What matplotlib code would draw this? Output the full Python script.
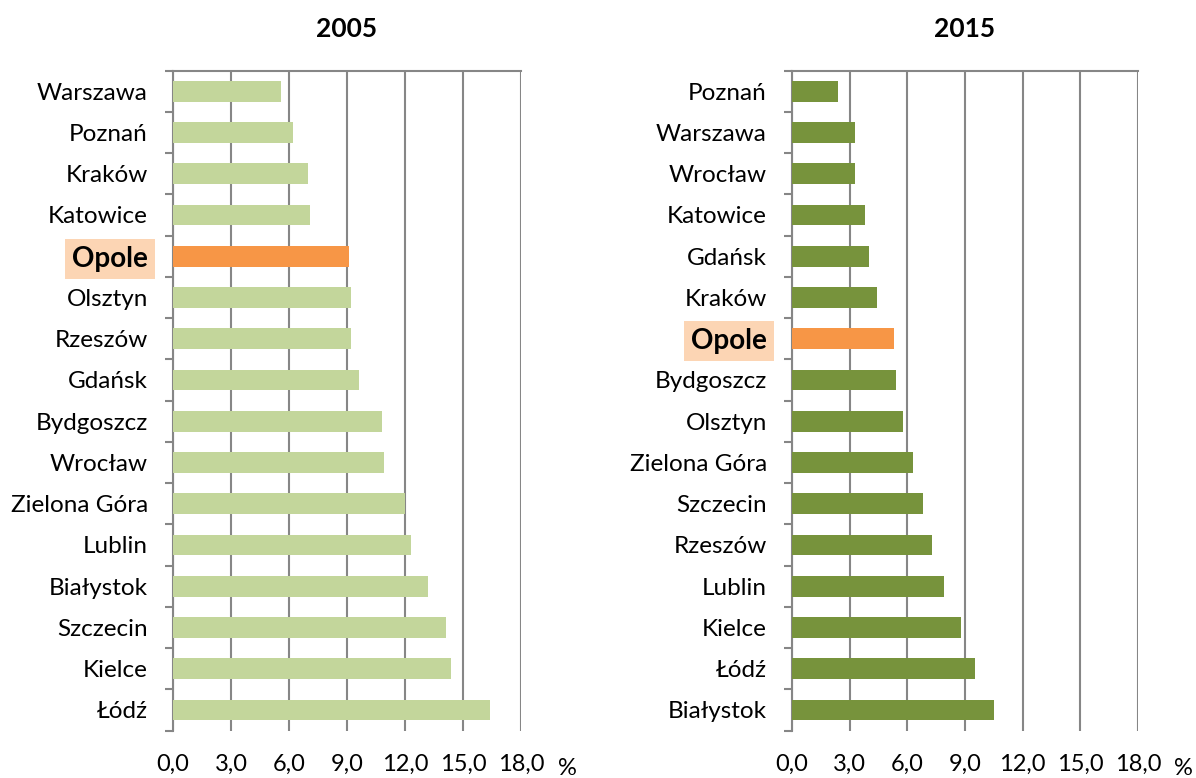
import numpy as np
import matplotlib as mpl
mpl.use('Agg')
import matplotlib.pyplot as plt
import matplotlib.ticker as ticker

plt.rcParams['font.family'] = ['Lato', 'DejaVu Sans']

# data, top row first
cities_2005 = ['Warszawa', 'Poznań', 'Kraków', 'Katowice', 'Opole', 'Olsztyn', 'Rzeszów', 'Gdańsk',
               'Bydgoszcz', 'Wrocław', 'Zielona Góra', 'Lublin', 'Białystok', 'Szczecin', 'Kielce', 'Łódź']
values_2005 = [5.6, 6.2, 7.0, 7.1, 9.1, 9.2, 9.2, 9.6, 10.8, 10.9, 12.0, 12.3, 13.2, 14.1, 14.4, 16.4]

cities_2015 = ['Poznań', 'Warszawa', 'Wrocław', 'Katowice', 'Gdańsk', 'Kraków', 'Opole', 'Bydgoszcz',
               'Olsztyn', 'Zielona Góra', 'Szczecin', 'Rzeszów', 'Lublin', 'Kielce', 'Łódź', 'Białystok']
values_2015 = [2.4, 3.3, 3.3, 3.8, 4.0, 4.4, 5.3, 5.4, 5.8, 6.3, 6.8, 7.3, 7.9, 8.8, 9.5, 10.5]

xticks = [0, 3, 6, 9, 12, 15, 18]
highlight = 'Opole'

W, H = 1196, 778
fig = plt.figure(figsize=(W / 100, H / 100), dpi=100)

grid_col = '#868686'
fs = 17.5


def panel(rect, title, cities, values, col):
    ax = fig.add_axes(rect)
    n = len(cities)
    y = np.arange(n)
    colors = ['#F79646' if c == highlight else col for c in cities]
    ax.barh(y, values, height=0.5, color=colors, zorder=3)
    ax.set_ylim(n - 0.5, -0.5)
    ax.set_xlim(0, 18)

    ax.set_xticks(xticks)
    ax.set_xticklabels(['{:.1f}'.format(t).replace('.', ',') for t in xticks])
    ax.tick_params(axis='x', length=0, pad=17, labelsize=17)
    ax.xaxis.grid(True, color=grid_col, linewidth=1.5, zorder=0)

    ax.set_yticks(y)
    ax.set_yticklabels(cities)
    ax.yaxis.set_minor_locator(ticker.FixedLocator(np.arange(n + 1) - 0.5))
    ax.tick_params(axis='y', which='major', length=0, pad=18, labelsize=fs)
    ax.tick_params(axis='y', which='minor', length=6, width=1.5, color=grid_col)

    for lab in ax.get_yticklabels():
        if lab.get_text() == highlight:
            lab.set_fontweight('bold')
            lab.set_fontsize(20)
            lab.set_bbox(dict(facecolor='#FCD5B4', edgecolor='none', boxstyle='square,pad=0.25'))

    for s in ['right', 'bottom']:
        ax.spines[s].set_visible(False)
    for s in ['top', 'left']:
        ax.spines[s].set_color(grid_col)
        ax.spines[s].set_linewidth(1.5)

    ax.set_title(title, fontsize=19, fontweight='bold', pad=24)
    ax.text(1.105, -0.057, '%', transform=ax.transAxes, fontsize=17, va='center', ha='left')
    return ax


ax1 = panel([173 / W, 47.4 / H, 348 / W, 660 / H], '2005', cities_2005, values_2005, '#C3D69B')
ax2 = panel([792 / W, 47.4 / H, 346 / W, 660 / H], '2015', cities_2015, values_2015, '#77933C')

fig.savefig('out.png', dpi=100)
